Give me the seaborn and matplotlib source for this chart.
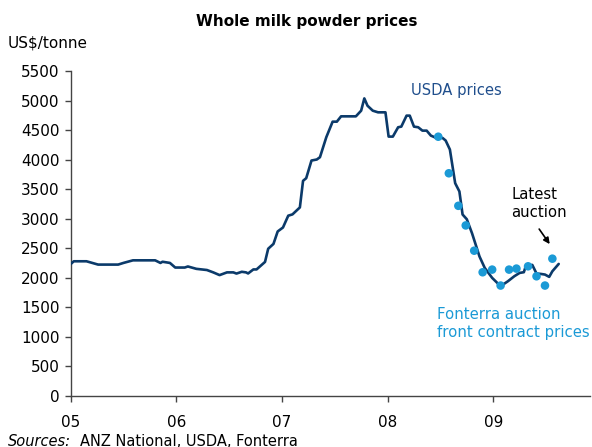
import matplotlib
matplotlib.use("Agg")
import matplotlib.pyplot as plt
import seaborn as sns
import pandas as pd

# USDA whole milk powder prices (decimal year, US$/tonne)
usda_year = [2005.00, 2005.03, 2005.15, 2005.26, 2005.45, 2005.50, 2005.59, 2005.80,
             2005.85, 2005.87, 2005.94, 2005.99, 2006.08, 2006.11, 2006.19, 2006.29,
             2006.35, 2006.41, 2006.48, 2006.54, 2006.57, 2006.62, 2006.66, 2006.68,
             2006.73, 2006.76, 2006.84, 2006.87, 2006.92, 2006.96, 2007.01, 2007.06,
             2007.10, 2007.17, 2007.20, 2007.23, 2007.28, 2007.33, 2007.36, 2007.42,
             2007.48, 2007.52, 2007.56, 2007.70, 2007.75, 2007.78, 2007.81, 2007.86,
             2007.91, 2007.98, 2008.01, 2008.05, 2008.10, 2008.13, 2008.18, 2008.21,
             2008.25, 2008.29, 2008.33, 2008.37, 2008.41, 2008.46, 2008.52, 2008.55,
             2008.59, 2008.64, 2008.68, 2008.71, 2008.75, 2008.80, 2008.87, 2008.92,
             2008.99, 2009.07, 2009.14, 2009.20, 2009.25, 2009.29, 2009.31, 2009.37,
             2009.41, 2009.45, 2009.49, 2009.53, 2009.56, 2009.62]
usda_price = [2230, 2278, 2278, 2222, 2222, 2250, 2294, 2294,
              2250, 2270, 2250, 2172, 2172, 2190, 2150, 2130,
              2090, 2044, 2090, 2090, 2070, 2100, 2090, 2072,
              2140, 2140, 2267, 2490, 2572, 2783, 2850, 3050,
              3072, 3190, 3640, 3685, 3984, 4001, 4040, 4378,
              4642, 4642, 4732, 4732, 4828, 5036, 4912, 4828,
              4800, 4800, 4389, 4389, 4547, 4558, 4744, 4744,
              4558, 4547, 4490, 4490, 4406, 4367, 4367, 4322,
              4170, 3600, 3460, 3070, 2990, 2750, 2360, 2165,
              1997, 1856, 1941, 2025, 2081, 2093, 2205, 2216,
              2070, 2064, 2053, 2014, 2109, 2233]

# Fonterra auction front contract prices
fonterra_year = [2008.48, 2008.58, 2008.67, 2008.74, 2008.82, 2008.90, 2008.99,
                 2009.07, 2009.15, 2009.22, 2009.33, 2009.41, 2009.49, 2009.56]
fonterra_price = [4387, 3768, 3217, 2885, 2457, 2092, 2137,
                  1867, 2137, 2154, 2193, 2024, 1867, 2322]

year_ticks = [2005, 2006, 2007, 2008, 2009]
year_labels = ["05", "06", "07", "08", "09"]
y_ticks = list(range(0, 5501, 500))

sns.set_theme(style="white")
plt.rcParams["font.family"] = ["DejaVu Sans"]

usda_df = pd.DataFrame({"year": usda_year, "price": usda_price})
fon_df = pd.DataFrame({"year": fonterra_year, "price": fonterra_price})

fig = plt.figure(figsize=(5.92, 4.47), dpi=100)
ax = fig.add_axes([0.1193, 0.1145, 0.878, 0.7267])

line_color = "#0b3a6a"
dot_color = "#1b9ad6"

sns.lineplot(data=usda_df, x="year", y="price", ax=ax, color=line_color,
             linewidth=1.9, estimator=None, sort=False, zorder=3)
sns.scatterplot(data=fon_df, x="year", y="price", ax=ax, color=dot_color,
                s=38, edgecolor="none", zorder=4)

ax.set_xlim(2005, 2009.92)
ax.set_ylim(0, 5500)
ax.set_xticks(year_ticks)
ax.set_xticklabels(year_labels)
ax.set_yticks(y_ticks)
ax.set_xlabel("")
ax.set_ylabel("")
for s in ["top", "right"]:
    ax.spines[s].set_visible(False)
for s in ["left", "bottom"]:
    ax.spines[s].set_color("#444444")
    ax.spines[s].set_linewidth(1.0)
ax.tick_params(axis="y", direction="out", length=4, width=1, color="#444444",
               labelsize=11, labelcolor="black", left=True, pad=4)
ax.tick_params(axis="x", direction="out", length=4, width=1, color="#444444",
               labelsize=11, labelcolor="black", bottom=True, pad=10)
ax.grid(False)

fig.text(0.518, 0.951, "Whole milk powder prices", ha="center", va="center",
         fontsize=11, fontweight="bold", color="black")
fig.text(0.0135, 0.903, "US$/tonne", ha="left", va="center", fontsize=11, color="black")

ax.text(2008.22, 5175, "USDA prices", ha="left", va="center", fontsize=10.6,
        color="#1f4e8c")
ax.text(2009.17, 3250, "Latest\nauction", ha="left", va="center", fontsize=10.7,
        color="black", linespacing=1.25)
ax.annotate("", xy=(2009.55, 2530), xytext=(2009.42, 2862),
            arrowprops=dict(arrowstyle="-|>", color="black", lw=1.2,
                            mutation_scale=9))
ax.text(2008.47, 1219, "Fonterra auction\nfront contract prices", ha="left",
        va="center", fontsize=10.7, color=dot_color, linespacing=1.25)

fig.text(0.0135, 0.0134, "Sources:", ha="left", va="center", fontsize=10.5,
         style="italic", color="black")
fig.text(0.135, 0.0134, "ANZ National, USDA, Fonterra", ha="left", va="center",
         fontsize=10.5, color="black")

fig.savefig("out.png", dpi=100)
